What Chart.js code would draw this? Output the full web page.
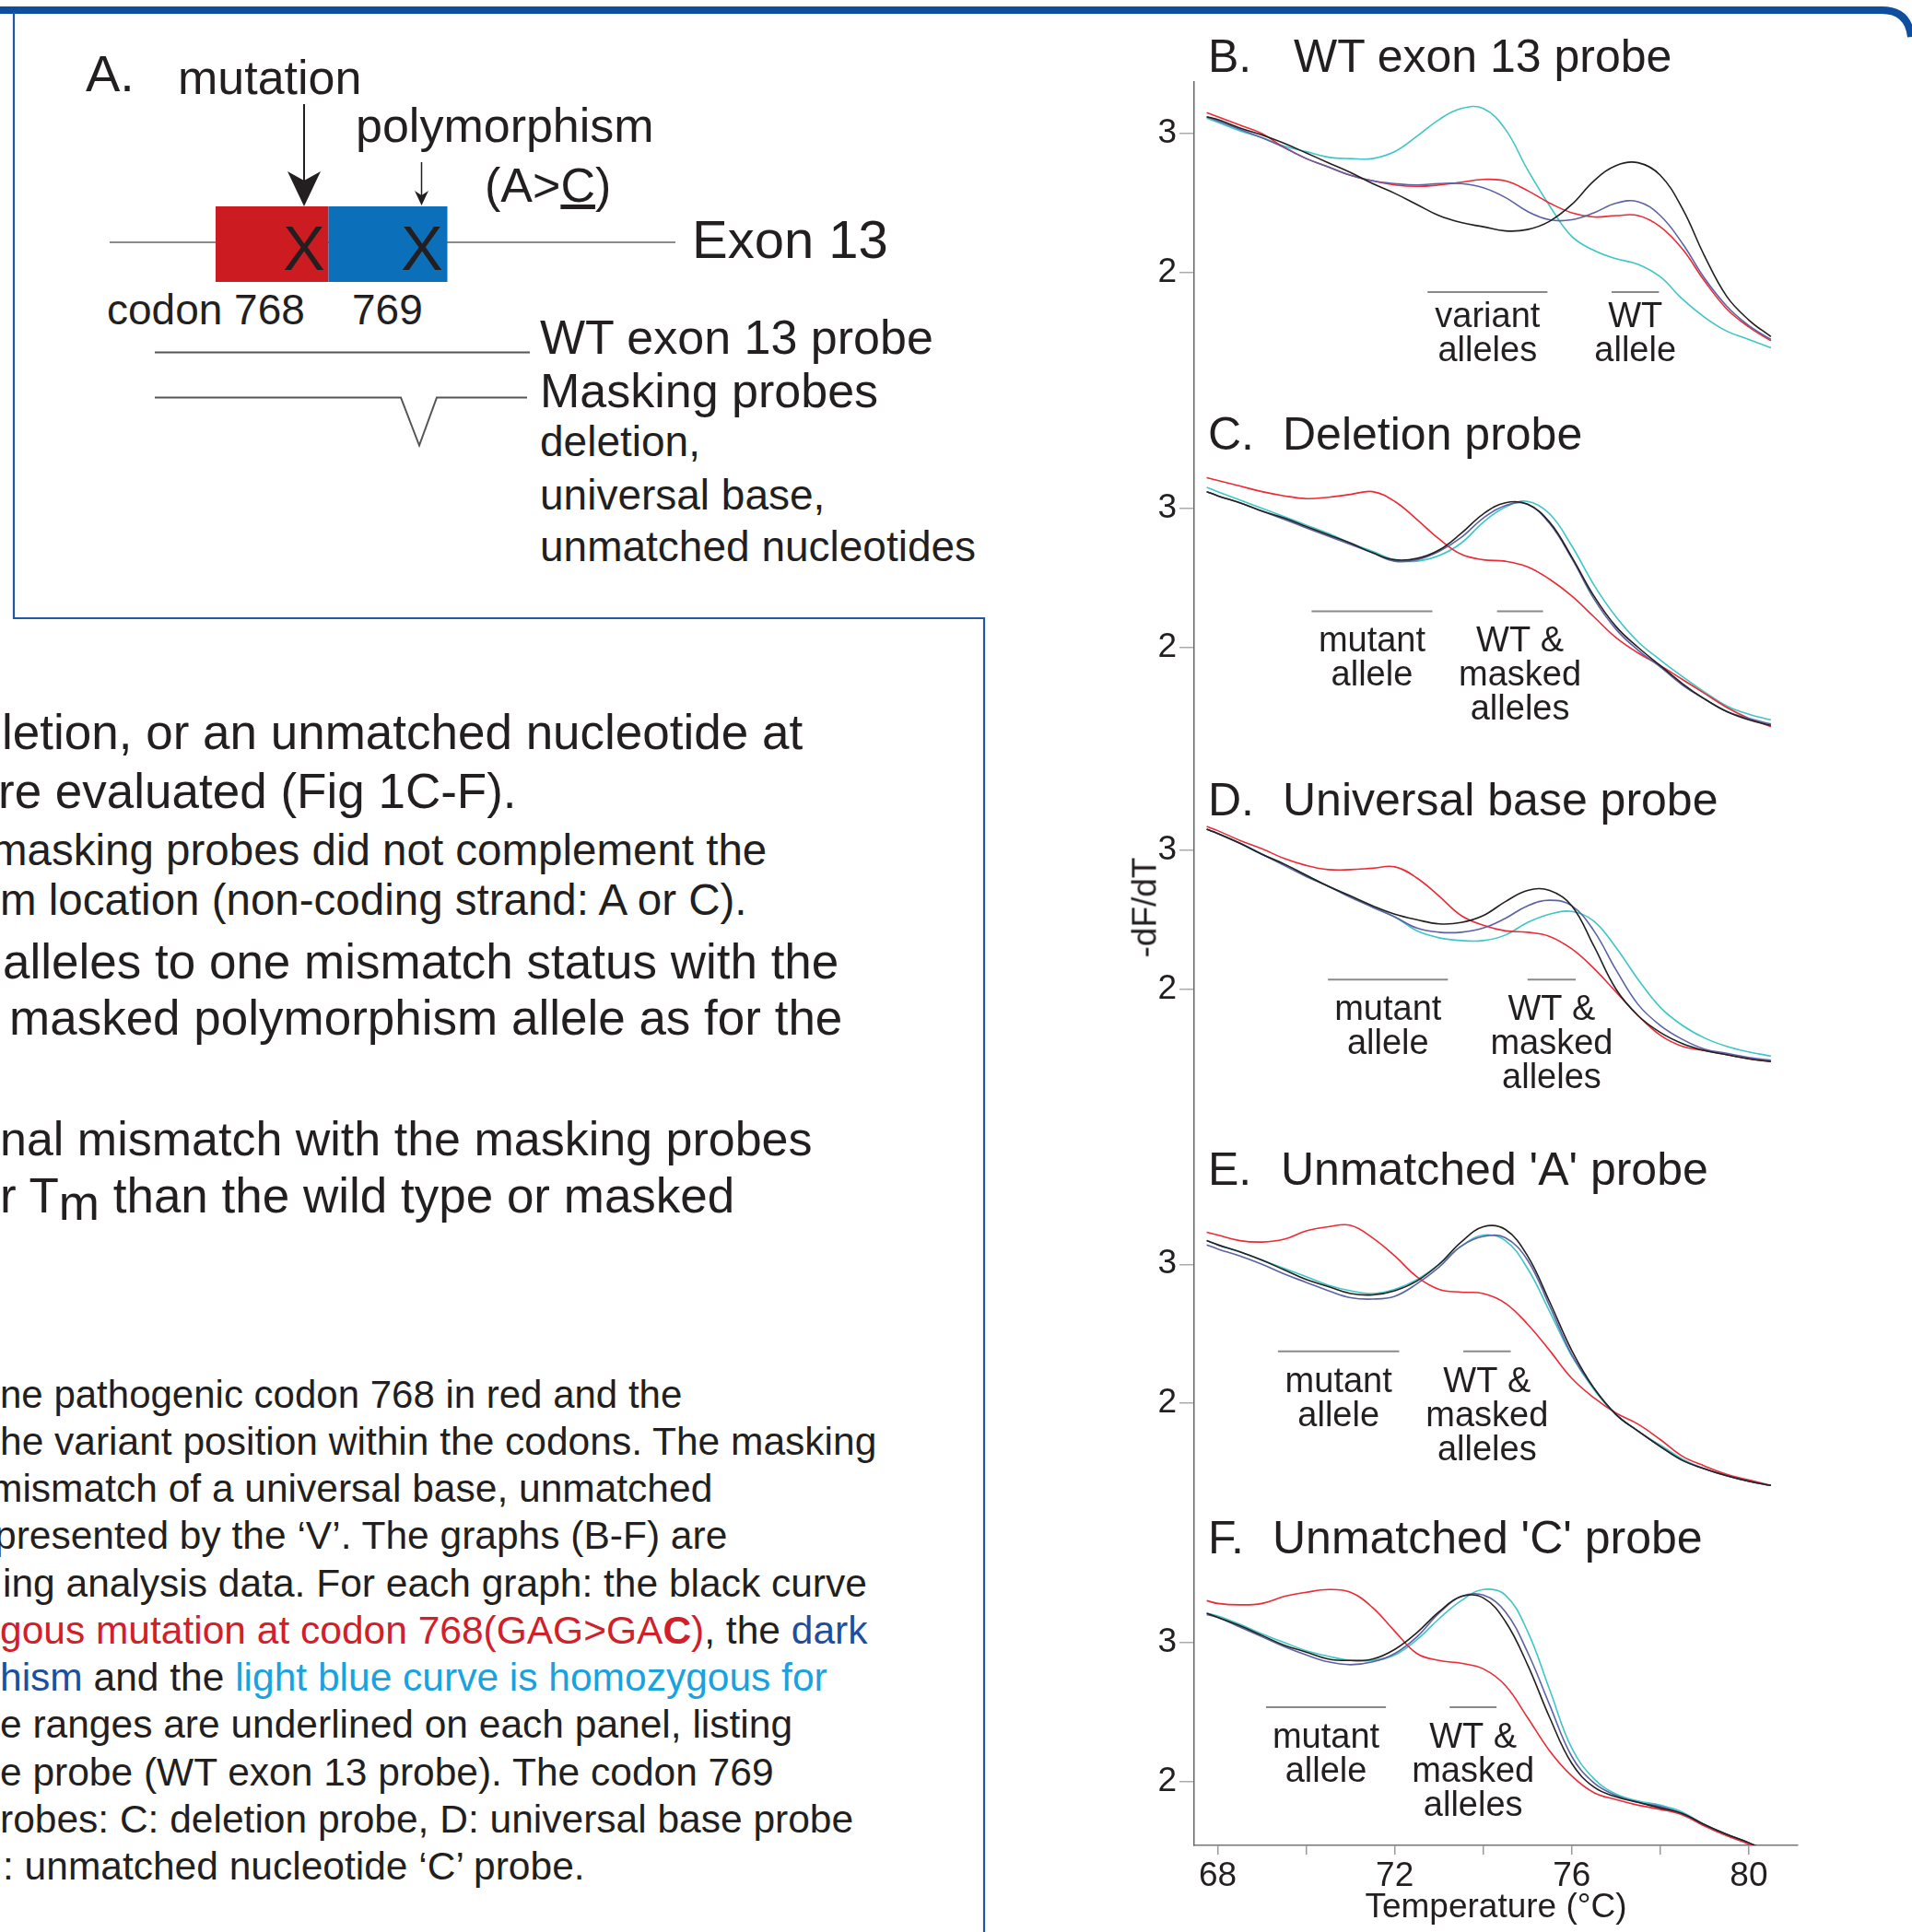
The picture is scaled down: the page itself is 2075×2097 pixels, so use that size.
<!DOCTYPE html>
<html lang="en">
<head>
<meta charset="UTF-8">
<title>Masking probes - melting curves</title>
<script src="https://cdn.jsdelivr.net/npm/chart.js"></script>
<style>
  body { margin: 0; background: #fff; }
  #page { position: relative; width: 2075px; height: 2097px; overflow: hidden;
          font-family: "Liberation Sans", Arial, sans-serif; color: #231f20; }
  .t { position: absolute; white-space: nowrap; line-height: 1; }
  canvas { position: absolute; }
  .red { color: #d2202a; }
  .dblue { color: #1d4f9e; }
  .lblue { color: #1aa2de; }
</style>
</head>
<body>
<div id="page">
  <!-- frame + panel A drawing -->
  <svg width="2075" height="2097" style="position:absolute;left:0;top:0">
    <path d="M0 11 H2042 Q2071 11 2074 40" fill="none" stroke="#0d4f9e" stroke-width="8"/>
    <path d="M15 13 V671 H1068 V2097" fill="none" stroke="#2456a4" stroke-width="2.2"/>
    <line x1="119" y1="263" x2="733" y2="263" stroke="#8c8c8c" stroke-width="2"/>
    <rect x="234" y="224" width="122.5" height="82" fill="#cd1b22"/>
    <rect x="356.5" y="224" width="129" height="82" fill="#0b6fba"/>
    <line x1="330" y1="113" x2="330" y2="200" stroke="#231f20" stroke-width="2"/>
    <path d="M312 186 L330 196 L348 186 L330 224 Z" fill="#231f20"/>
    <line x1="457.5" y1="176" x2="457.5" y2="212" stroke="#231f20" stroke-width="1.5"/>
    <path d="M450 207 L457.5 212 L465 207 L457.5 223 Z" fill="#231f20"/>
    <line x1="168" y1="382.5" x2="575" y2="382.5" stroke="#555" stroke-width="2"/>
    <path d="M168 431.5 H435 L455 483.5 L474 431.5 H572" fill="none" stroke="#555" stroke-width="2"/>
  </svg>

  <div class="t" style="left:93px;top:52px;font-size:56px">A.</div>
  <div class="t" style="left:193px;top:58px;font-size:52px">mutation</div>
  <div class="t" style="left:386px;top:110px;font-size:52px">polymorphism</div>
  <div class="t" style="left:526px;top:175px;font-size:52px">(A&gt;<span style="text-decoration:underline">C</span>)</div>
  <div class="t" style="left:290px;top:235px;width:80px;text-align:center;font-size:68px">X</div>
  <div class="t" style="left:418px;top:235px;width:80px;text-align:center;font-size:68px">X</div>
  <div class="t" style="left:751px;top:231px;font-size:58px">Exon 13</div>
  <div class="t" style="left:116px;top:313px;font-size:46px">codon 768</div>
  <div class="t" style="left:382px;top:313px;font-size:46px">769</div>
  <div class="t" style="left:586px;top:340px;font-size:52px">WT exon 13 probe</div>
  <div class="t" style="left:586px;top:398px;font-size:52px">Masking probes</div>
  <div class="t" style="left:586px;top:456px;font-size:46px">deletion,</div>
  <div class="t" style="left:586px;top:514px;font-size:46px">universal base,</div>
  <div class="t" style="left:586px;top:570px;font-size:46px">unmatched nucleotides</div>

  <!-- body text -->
  <div class="t" style="left:2px;top:768px;font-size:53px">letion, or an unmatched nucleotide at</div>
  <div class="t" style="left:-2px;top:832px;font-size:53px">re evaluated (Fig 1C-F).</div>
  <div class="t" style="left:-10px;top:899px;font-size:47.5px">masking probes did not complement the</div>
  <div class="t" style="left:0px;top:953px;font-size:47.5px">m location (non-coding strand: A or C).</div>
  <div class="t" style="left:3px;top:1017px;font-size:53px">alleles to one mismatch status with the</div>
  <div class="t" style="left:10px;top:1078px;font-size:53px">masked polymorphism allele as for the</div>
  <div class="t" style="left:0px;top:1210px;font-size:52px">nal mismatch with the masking probes</div>
  <div class="t" style="left:0px;top:1271px;font-size:53px">r T<span style="position:relative;top:8px">m</span> than the wild type or masked</div>

  <!-- caption -->
  <div class="t" style="left:0px;top:1493px;font-size:42px">ne pathogenic codon 768 in red and the</div>
  <div class="t" style="left:0px;top:1544px;font-size:42.5px">he variant position within the codons. The masking</div>
  <div class="t" style="left:-11px;top:1595px;font-size:42.5px">mismatch of a universal base, unmatched</div>
  <div class="t" style="left:-6px;top:1646px;font-size:42.5px">presented by the ‘V’. The graphs (B-F) are</div>
  <div class="t" style="left:3px;top:1698px;font-size:42.5px">ing analysis data. For each graph: the black curve</div>
  <div class="t" style="left:0px;top:1749px;font-size:42.5px"><span class="red">gous mutation at codon 768(GAG&gt;GA<b>C</b>)</span>, the <span class="dblue">dark</span></div>
  <div class="t" style="left:0px;top:1800px;font-size:42.5px"><span class="dblue">hism</span> and the <span class="lblue">light blue curve is homozygous for</span></div>
  <div class="t" style="left:0px;top:1851px;font-size:42.5px">e ranges are underlined on each panel, listing</div>
  <div class="t" style="left:0px;top:1903px;font-size:42.5px">e probe (WT exon 13 probe). The codon 769</div>
  <div class="t" style="left:0px;top:1954px;font-size:42.5px">robes: C: deletion probe, D: universal base probe</div>
  <div class="t" style="left:3px;top:2005px;font-size:42.5px">: unmatched nucleotide ‘C’ probe.</div>

  <!-- melting curve panels -->
  <canvas id="pB" width="800" height="312" style="left:1200px;top:88px"></canvas>
  <canvas id="pC" width="800" height="400" style="left:1200px;top:400px"></canvas>
  <canvas id="pD" width="800" height="400" style="left:1200px;top:800px"></canvas>
  <canvas id="pE" width="800" height="425" style="left:1200px;top:1200px"></canvas>
  <canvas id="pF" width="800" height="472" style="left:1200px;top:1625px"></canvas>

  <div class="t" style="left:1311px;top:36px;font-size:50px">B.</div>
  <div class="t" style="left:1404px;top:36px;font-size:50px">WT exon 13 probe</div>
  <div class="t" style="left:1311px;top:446px;font-size:50px">C.</div>
  <div class="t" style="left:1392px;top:446px;font-size:50px">Deletion probe</div>
  <div class="t" style="left:1311px;top:843px;font-size:50px">D.</div>
  <div class="t" style="left:1392px;top:843px;font-size:50px">Universal base probe</div>
  <div class="t" style="left:1311px;top:1244px;font-size:50px">E.</div>
  <div class="t" style="left:1390px;top:1244px;font-size:50px">Unmatched 'A' probe</div>
  <div class="t" style="left:1311px;top:1644px;font-size:50px">F.</div>
  <div class="t" style="left:1381px;top:1644px;font-size:50px">Unmatched 'C' probe</div>
  <div class="t" style="left:1242px;top:985px;font-size:37px;transform:translate(-50%,-50%) rotate(-90deg)">-dF/dT</div>
</div>

<script>
// temperatures (°C) where the curves were read
const temps = [67.75, 68, 68.5, 69, 69.5, 70, 70.5, 71, 71.5, 72, 72.5, 73, 73.5, 74,
               74.5, 75, 75.5, 76, 76.5, 77, 77.5, 78, 78.5, 79, 79.5, 80, 80.5];
const tempTicks = [68, 70, 72, 74, 76, 78, 80];
const tempLabels = ['68', '', '72', '', '76', '', '80'];
const yTicks = [2, 3];

// B. WT exon 13 probe
const bBlack = [3.12, 3.10, 3.04, 2.99, 2.93, 2.86, 2.79, 2.72, 2.64, 2.57, 2.49, 2.41, 2.36, 2.33, 2.30, 2.31, 2.37, 2.49, 2.66, 2.77, 2.79, 2.70, 2.46, 2.12, 1.83, 1.66, 1.54];
const bNavy  = [3.12, 3.09, 3.03, 2.97, 2.90, 2.82, 2.76, 2.70, 2.66, 2.64, 2.63, 2.64, 2.64, 2.61, 2.54, 2.44, 2.38, 2.38, 2.43, 2.50, 2.51, 2.41, 2.21, 1.96, 1.76, 1.62, 1.52];
const bRed   = [3.15, 3.12, 3.06, 3.00, 2.90, 2.82, 2.76, 2.70, 2.66, 2.63, 2.62, 2.63, 2.65, 2.67, 2.66, 2.59, 2.50, 2.43, 2.40, 2.41, 2.41, 2.33, 2.17, 1.94, 1.74, 1.61, 1.51];
const bCyan  = [3.11, 3.08, 3.02, 2.97, 2.91, 2.87, 2.83, 2.82, 2.82, 2.87, 2.98, 3.10, 3.18, 3.18, 3.03, 2.74, 2.48, 2.26, 2.16, 2.10, 2.06, 1.97, 1.81, 1.68, 1.58, 1.52, 1.46];

// C. Deletion probe
const cBlack = [3.12, 3.09, 3.04, 2.98, 2.93, 2.87, 2.81, 2.75, 2.68, 2.63, 2.64, 2.70, 2.82, 2.96, 3.04, 3.03, 2.90, 2.65, 2.37, 2.15, 2.00, 1.87, 1.74, 1.63, 1.54, 1.48, 1.44];
const cNavy  = [3.12, 3.09, 3.04, 2.98, 2.92, 2.86, 2.80, 2.74, 2.68, 2.62, 2.63, 2.69, 2.79, 2.93, 3.02, 3.03, 2.89, 2.64, 2.35, 2.13, 1.98, 1.86, 1.73, 1.63, 1.54, 1.49, 1.45];
const cRed   = [3.22, 3.20, 3.16, 3.12, 3.09, 3.07, 3.08, 3.10, 3.12, 3.05, 2.92, 2.78, 2.67, 2.63, 2.62, 2.58, 2.49, 2.37, 2.22, 2.07, 1.96, 1.87, 1.77, 1.67, 1.57, 1.49, 1.43];
const cCyan  = [3.15, 3.12, 3.06, 3.00, 2.94, 2.88, 2.82, 2.75, 2.69, 2.63, 2.62, 2.66, 2.75, 2.90, 3.01, 3.05, 2.96, 2.73, 2.45, 2.22, 2.04, 1.91, 1.79, 1.68, 1.58, 1.52, 1.48];

// D. Universal base probe
const dBlack = [3.15, 3.12, 3.05, 2.97, 2.90, 2.82, 2.74, 2.67, 2.60, 2.54, 2.50, 2.47, 2.48, 2.53, 2.63, 2.71, 2.71, 2.60, 2.31, 2.00, 1.81, 1.69, 1.61, 1.56, 1.53, 1.50, 1.48];
const dNavy  = [3.15, 3.12, 3.05, 2.97, 2.89, 2.81, 2.74, 2.66, 2.59, 2.52, 2.44, 2.41, 2.41, 2.44, 2.51, 2.60, 2.64, 2.60, 2.42, 2.14, 1.89, 1.74, 1.64, 1.57, 1.54, 1.51, 1.49];
const dRed   = [3.17, 3.14, 3.07, 3.01, 2.94, 2.89, 2.86, 2.86, 2.87, 2.88, 2.80, 2.67, 2.53, 2.46, 2.42, 2.41, 2.38, 2.29, 2.15, 1.98, 1.81, 1.67, 1.59, 1.56, 1.53, 1.50, 1.48];
const dCyan  = [3.15, 3.12, 3.05, 2.97, 2.90, 2.82, 2.74, 2.67, 2.59, 2.52, 2.42, 2.37, 2.35, 2.35, 2.39, 2.48, 2.54, 2.56, 2.49, 2.30, 2.07, 1.87, 1.74, 1.65, 1.59, 1.55, 1.52];

// E. Unmatched 'A' probe
const eBlack = [3.17, 3.14, 3.09, 3.03, 2.96, 2.89, 2.84, 2.79, 2.78, 2.81, 2.88, 3.00, 3.16, 3.27, 3.25, 3.06, 2.73, 2.38, 2.11, 1.92, 1.80, 1.69, 1.59, 1.53, 1.48, 1.44, 1.41];
const eNavy  = [3.14, 3.11, 3.06, 3.00, 2.93, 2.87, 2.81, 2.76, 2.75, 2.77, 2.86, 2.98, 3.13, 3.20, 3.19, 3.03, 2.70, 2.35, 2.11, 1.92, 1.80, 1.69, 1.59, 1.53, 1.48, 1.44, 1.41];
const eRed   = [3.23, 3.21, 3.17, 3.16, 3.18, 3.24, 3.27, 3.28, 3.19, 3.06, 2.91, 2.82, 2.80, 2.79, 2.72, 2.57, 2.38, 2.18, 2.04, 1.93, 1.85, 1.74, 1.62, 1.55, 1.49, 1.45, 1.41];
const eCyan  = [3.17, 3.14, 3.09, 3.03, 2.97, 2.91, 2.85, 2.81, 2.79, 2.82, 2.89, 3.00, 3.13, 3.21, 3.17, 2.97, 2.66, 2.34, 2.10, 1.92, 1.80, 1.70, 1.60, 1.53, 1.48, 1.44, 1.41];

// F. Unmatched 'C' probe
const fBlack = [3.21, 3.18, 3.12, 3.05, 2.98, 2.93, 2.88, 2.87, 2.88, 2.95, 3.07, 3.22, 3.33, 3.32, 3.15, 2.84, 2.46, 2.13, 1.96, 1.89, 1.85, 1.81, 1.77, 1.69, 1.62, 1.56, 1.49];
const fNavy  = [3.20, 3.18, 3.11, 3.04, 2.97, 2.91, 2.86, 2.84, 2.86, 2.92, 3.04, 3.21, 3.33, 3.34, 3.22, 2.93, 2.55, 2.18, 1.99, 1.90, 1.85, 1.82, 1.77, 1.69, 1.62, 1.56, 1.49];
const fRed   = [3.30, 3.28, 3.27, 3.28, 3.33, 3.36, 3.38, 3.36, 3.25, 3.08, 2.92, 2.87, 2.85, 2.81, 2.69, 2.46, 2.22, 2.04, 1.92, 1.87, 1.83, 1.80, 1.76, 1.68, 1.61, 1.55, 1.48];
const fCyan  = [3.21, 3.19, 3.13, 3.06, 3.00, 2.94, 2.90, 2.87, 2.87, 2.91, 3.02, 3.17, 3.30, 3.38, 3.34, 3.08, 2.66, 2.24, 2.02, 1.91, 1.86, 1.83, 1.78, 1.69, 1.62, 1.56, 1.49];

// underlined temperature ranges for each genotype
const bMarks = [{from: 72.74, to: 75.45, lines: ['variant', 'alleles']}, {from: 76.90, to: 77.97, lines: ['WT', 'allele']}];
const cMarks = [{from: 70.12, to: 72.85, lines: ['mutant', 'allele']}, {from: 74.31, to: 75.35, lines: ['WT &', 'masked', 'alleles']}];
const dMarks = [{from: 70.49, to: 73.20, lines: ['mutant', 'allele']}, {from: 75.00, to: 76.09, lines: ['WT &', 'masked', 'alleles']}];
const eMarks = [{from: 69.36, to: 72.10, lines: ['mutant', 'allele']}, {from: 73.55, to: 74.62, lines: ['WT &', 'masked', 'alleles']}];
const fMarks = [{from: 69.09, to: 71.80, lines: ['mutant', 'allele']}, {from: 73.24, to: 74.30, lines: ['WT &', 'masked', 'alleles']}];

const curveColors = ['#231f20', '#5c62a4', '#ec2b36', '#3fc6c6'];

const panels = [
  {id: 'pB', series: [bBlack, bNavy, bRed, bCyan], min: 1.311, max: 3.377, level: 1.86,  marks: bMarks, gap: 38},
  {id: 'pC', series: [cBlack, cNavy, cRed, cCyan], min: 1.356, max: 4.005, level: 2.26,  marks: cMarks, gap: 44},
  {id: 'pD', series: [dBlack, dNavy, dRed, dCyan], min: 1.164, max: 3.813, level: 2.07,  marks: dMarks, gap: 44},
  {id: 'pE', series: [eBlack, eNavy, eRed, eCyan], min: 1.326, max: 4.141, level: 2.375, marks: eMarks, gap: 44},
  {id: 'pF', series: [fBlack, fNavy, fRed, fCyan], min: 1.541, max: 4.044, level: 2.535, marks: fMarks, gap: 44}
];

Chart.defaults.font.family = '"Liberation Sans", Arial, sans-serif';
Chart.defaults.color = '#231f20';

// grey bars + labels under the curves
const alleleMarks = {
  id: 'alleleMarks',
  afterDatasetsDraw(chart, args, opts) {
    const {ctx, scales: {x, y}} = chart;
    const yp = y.getPixelForValue(opts.level);
    ctx.save();
    ctx.strokeStyle = '#8a8a8a';
    ctx.lineWidth = 2;
    ctx.fillStyle = '#231f20';
    ctx.font = '38px "Liberation Sans", Arial, sans-serif';
    ctx.textAlign = 'center';
    ctx.textBaseline = 'alphabetic';
    opts.marks.forEach(m => {
      const x0 = x.getPixelForValue(m.from);
      const x1 = x.getPixelForValue(m.to);
      ctx.beginPath();
      ctx.moveTo(x0, yp);
      ctx.lineTo(x1, yp);
      ctx.stroke();
      m.lines.forEach((s, i) => ctx.fillText(s, (x0 + x1) / 2, yp + opts.gap + i * 37));
    });
    ctx.restore();
  }
};

function makePanel(p, showX) {
  new Chart(document.getElementById(p.id), {
    type: 'line',
    data: {
      datasets: p.series.map((s, i) => ({
        data: temps.map((t, k) => ({x: t, y: s[k]})),
        borderColor: curveColors[i],
        borderWidth: 1.6,
        pointRadius: 0,
        tension: 0.4,
        fill: false
      }))
    },
    options: {
      responsive: false,
      animation: false,
      devicePixelRatio: 1,
      layout: {padding: {left: 0, top: 0, right: 49, bottom: 0}},
      plugins: {
        legend: {display: false},
        tooltip: {enabled: false},
        alleleMarks: {marks: p.marks, level: p.level, gap: p.gap}
      },
      scales: {
        x: {
          type: 'linear', min: 67.467, max: 81.106, display: showX,
          afterBuildTicks: s => { s.ticks = tempTicks.map(v => ({value: v})); },
          afterFit: s => {
            if (!showX) return;
            s.height = 94; s.paddingLeft = 0; s.paddingRight = 0;
          },
          grid: {drawOnChartArea: false, tickLength: 10, tickColor: '#9a9a9a', lineWidth: 1.5},
          border: {color: '#777', width: 1.5},
          ticks: {font: {size: 37}, padding: 2, maxRotation: 0, autoSkip: false,
                  callback: (v, i) => tempLabels[i]},
          title: {display: showX, text: 'Temperature (°C)', font: {size: 37},
                  padding: {top: 0, bottom: 4}}
        },
        y: {
          min: p.min, max: p.max,
          afterBuildTicks: s => { s.ticks = yTicks.map(v => ({value: v})); },
          afterFit: s => { s.width = 96; s.paddingTop = 0; s.paddingBottom = 0; },
          grid: {drawOnChartArea: false, tickLength: 16, tickColor: '#aaa', lineWidth: 1.5},
          border: {color: '#666', width: 1.5},
          ticks: {font: {size: 37}, padding: 3}
        }
      }
    },
    plugins: [alleleMarks]
  });
}

panels.forEach((p, i) => makePanel(p, i === panels.length - 1));
</script>
</body>
</html>
